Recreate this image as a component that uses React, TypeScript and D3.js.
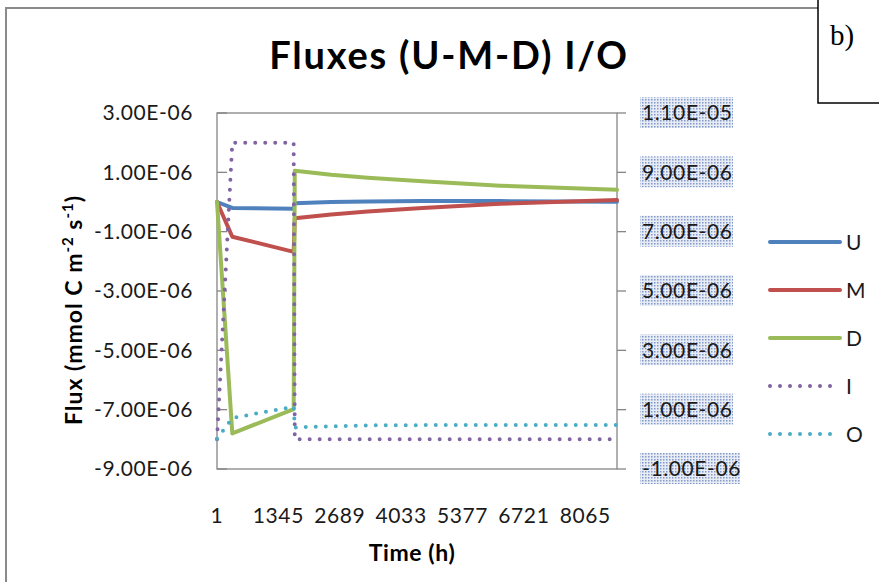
import React from 'react';
import * as d3 from 'd3';

// time axis (hours) shared by all series
const hours = [1, 336, 1680, 1704, 2500, 3300, 4500, 6200, 8760];

// left axis series (mmol C m-2 s-1)
const seriesU = [0, -0.2e-6, -0.23e-6, -0.04e-6, 0.0, 0.02e-6, 0.03e-6, 0.03e-6, 0.01e-6];
const seriesM = [0, -1.17e-6, -1.68e-6, -0.55e-6, -0.42e-6, -0.32e-6, -0.2e-6, -0.06e-6, 0.07e-6];
const seriesD = [0, -7.8e-6, -6.98e-6, 1.05e-6, 0.92e-6, 0.82e-6, 0.7e-6, 0.55e-6, 0.41e-6];
// right axis series
const seriesI = [0, 1.0e-5, 1.0e-5, 0, 0, 0, 0, 0, 0];
const seriesO = [0.02e-6, 0.72e-6, 1.1e-6, 0.4e-6, 0.44e-6, 0.47e-6, 0.48e-6, 0.48e-6, 0.48e-6];

const xTicks = [1, 1345, 2689, 4033, 5377, 6721, 8065];
const leftTicks = [-9e-6, -7e-6, -5e-6, -3e-6, -1e-6, 1e-6, 3e-6];
const rightTicks = [-1e-6, 1e-6, 3e-6, 5e-6, 7e-6, 9e-6, 1.1e-5];

const names = ['U', 'M', 'D', 'I', 'O'];
const colors = ['#4F81BD', '#C0504D', '#9BBB59', '#8064A2', '#4BACC6'];

const fmtE = (v: number) => {
  const [m, e] = v.toExponential(2).split('e');
  const n = +e;
  return `${m}E${n < 0 ? '-' : '+'}${String(Math.abs(n)).padStart(2, '0')}`;
};

const App = () => {
  const width = 879;
  const height = 582;
  const plot = { left: 217, right: 617, top: 113, bottom: 469 };

  const x = d3.scaleLinear().domain([1, 8760]).range([plot.left, plot.right]);
  const yL = d3.scaleLinear().domain([-9e-6, 3e-6]).range([plot.bottom, plot.top]);
  const yR = d3.scaleLinear().domain([-1e-6, 1.1e-5]).range([plot.bottom, plot.top]);

  const lineL = d3.line<number>().x((_, i) => x(hours[i])).y(d => yL(d));
  const lineR = d3.line<number>().x((_, i) => x(hours[i])).y(d => yR(d));

  const series = [
    { vals: seriesU, line: lineL, dotted: false },
    { vals: seriesM, line: lineL, dotted: false },
    { vals: seriesD, line: lineL, dotted: false },
    { vals: seriesI, line: lineR, dotted: true },
    { vals: seriesO, line: lineR, dotted: true },
  ];

  const font = 'Lato, "Open Sans", sans-serif';
  const axisColor = '#868686';
  const textColor = '#1a1a1a';
  const tickFont = 21;
  const tickSpacing = 0.6;

  return (
    <svg width={width} height={height} style={{ position: 'absolute', left: 0, top: 0, background: '#fff' }}>
      <defs>
        <pattern id="hatch" width="3" height="3" patternUnits="userSpaceOnUse">
          <rect width="3" height="3" fill="#e8ecf5" />
          <rect width="1.5" height="1.5" fill="#8299c9" />
        </pattern>
      </defs>

      {/* outer chart border */}
      <rect x={6} y={8} width={width} height={height} fill="none" stroke="#8a8a8a" strokeWidth={2} />

      {/* panel label box */}
      <rect x={818} y={-2} width={70} height={105} fill="#fff" stroke="#000" strokeWidth={1.5} />
      <text x={830} y={45} fontFamily='"Liberation Serif", "DejaVu Serif", serif' fontSize={29} fill="#000">b)</text>

      {/* title */}
      <text x={449} y={69} textAnchor="middle" fontFamily={font} fontWeight={700} fontSize={38} letterSpacing={1.8} fill="#000">
        Fluxes (U-M-D) I/O
      </text>

      {/* plot frame */}
      <rect x={plot.left} y={plot.top} width={plot.right - plot.left} height={plot.bottom - plot.top}
        fill="none" stroke={axisColor} strokeWidth={1.3} />

      {/* left axis */}
      {leftTicks.map(t => (
        <g key={'l' + t}>
          <line x1={plot.left} x2={plot.left + 10} y1={yL(t)} y2={yL(t)} stroke={axisColor} strokeWidth={1.3} />
          <text x={193} y={yL(t)} dy="0.35em" textAnchor="end" fontFamily={font} fontSize={tickFont}
            letterSpacing={tickSpacing} fill={textColor}>
            {fmtE(t)}
          </text>
        </g>
      ))}

      {/* right axis */}
      {rightTicks.map(t => (
        <g key={'r' + t}>
          <line x1={plot.right} x2={plot.right + 9} y1={yR(t)} y2={yR(t)} stroke={axisColor} strokeWidth={1.3} />
          <rect x={640} y={yR(t) - 16} width={t < 0 ? 100 : 93} height={31} fill="url(#hatch)" />
          <text x={642} y={yR(t)} dy="0.35em" fontFamily={font} fontSize={tickFont}
            letterSpacing={tickSpacing} fill={textColor}>
            {fmtE(t)}
          </text>
        </g>
      ))}

      {/* x axis labels */}
      {xTicks.map(t => (
        <text key={'x' + t} x={x(t)} y={523} textAnchor="middle" fontFamily={font} fontSize={tickFont}
          letterSpacing={tickSpacing} fill={textColor}>
          {t}
        </text>
      ))}

      {/* axis titles */}
      <text x={412} y={561} textAnchor="middle" fontFamily={font} fontWeight={700} fontSize={23} letterSpacing={0.6} fill="#000">
        Time (h)
      </text>
      <text transform="translate(82,310) rotate(-90)" textAnchor="middle" fontFamily={font} fontWeight={700} fontSize={23}
        letterSpacing={1} fill="#000">
        Flux (mmol C m<tspan fontSize={15} dy={-9}>-2</tspan><tspan dy={9}> s</tspan><tspan fontSize={15} dy={-9}>-1</tspan><tspan dy={9}>)</tspan>
      </text>

      {/* series */}
      {series.map((s, i) => (
        <path key={names[i]} d={s.line(s.vals) || ''} fill="none" stroke={colors[i]}
          strokeWidth={s.dotted ? 4 : 4}
          strokeLinecap="round" strokeLinejoin="round"
          strokeDasharray={s.dotted ? '0 10' : undefined} />
      ))}

      {/* legend */}
      {names.map((n, i) => {
        const ly = 242 + i * 48;
        const dotted = i >= 3;
        return (
          <g key={'lg' + n}>
            <line x1={770} x2={dotted ? 833 : 840} y1={ly} y2={ly} stroke={colors[i]}
              strokeWidth={4} strokeLinecap="round"
              strokeDasharray={dotted ? '0 10' : undefined} />
            <text x={846} y={ly} dy="0.36em" fontFamily={font} fontSize={21} fill={textColor}>{n}</text>
          </g>
        );
      })}
    </svg>
  );
};

export default App;
